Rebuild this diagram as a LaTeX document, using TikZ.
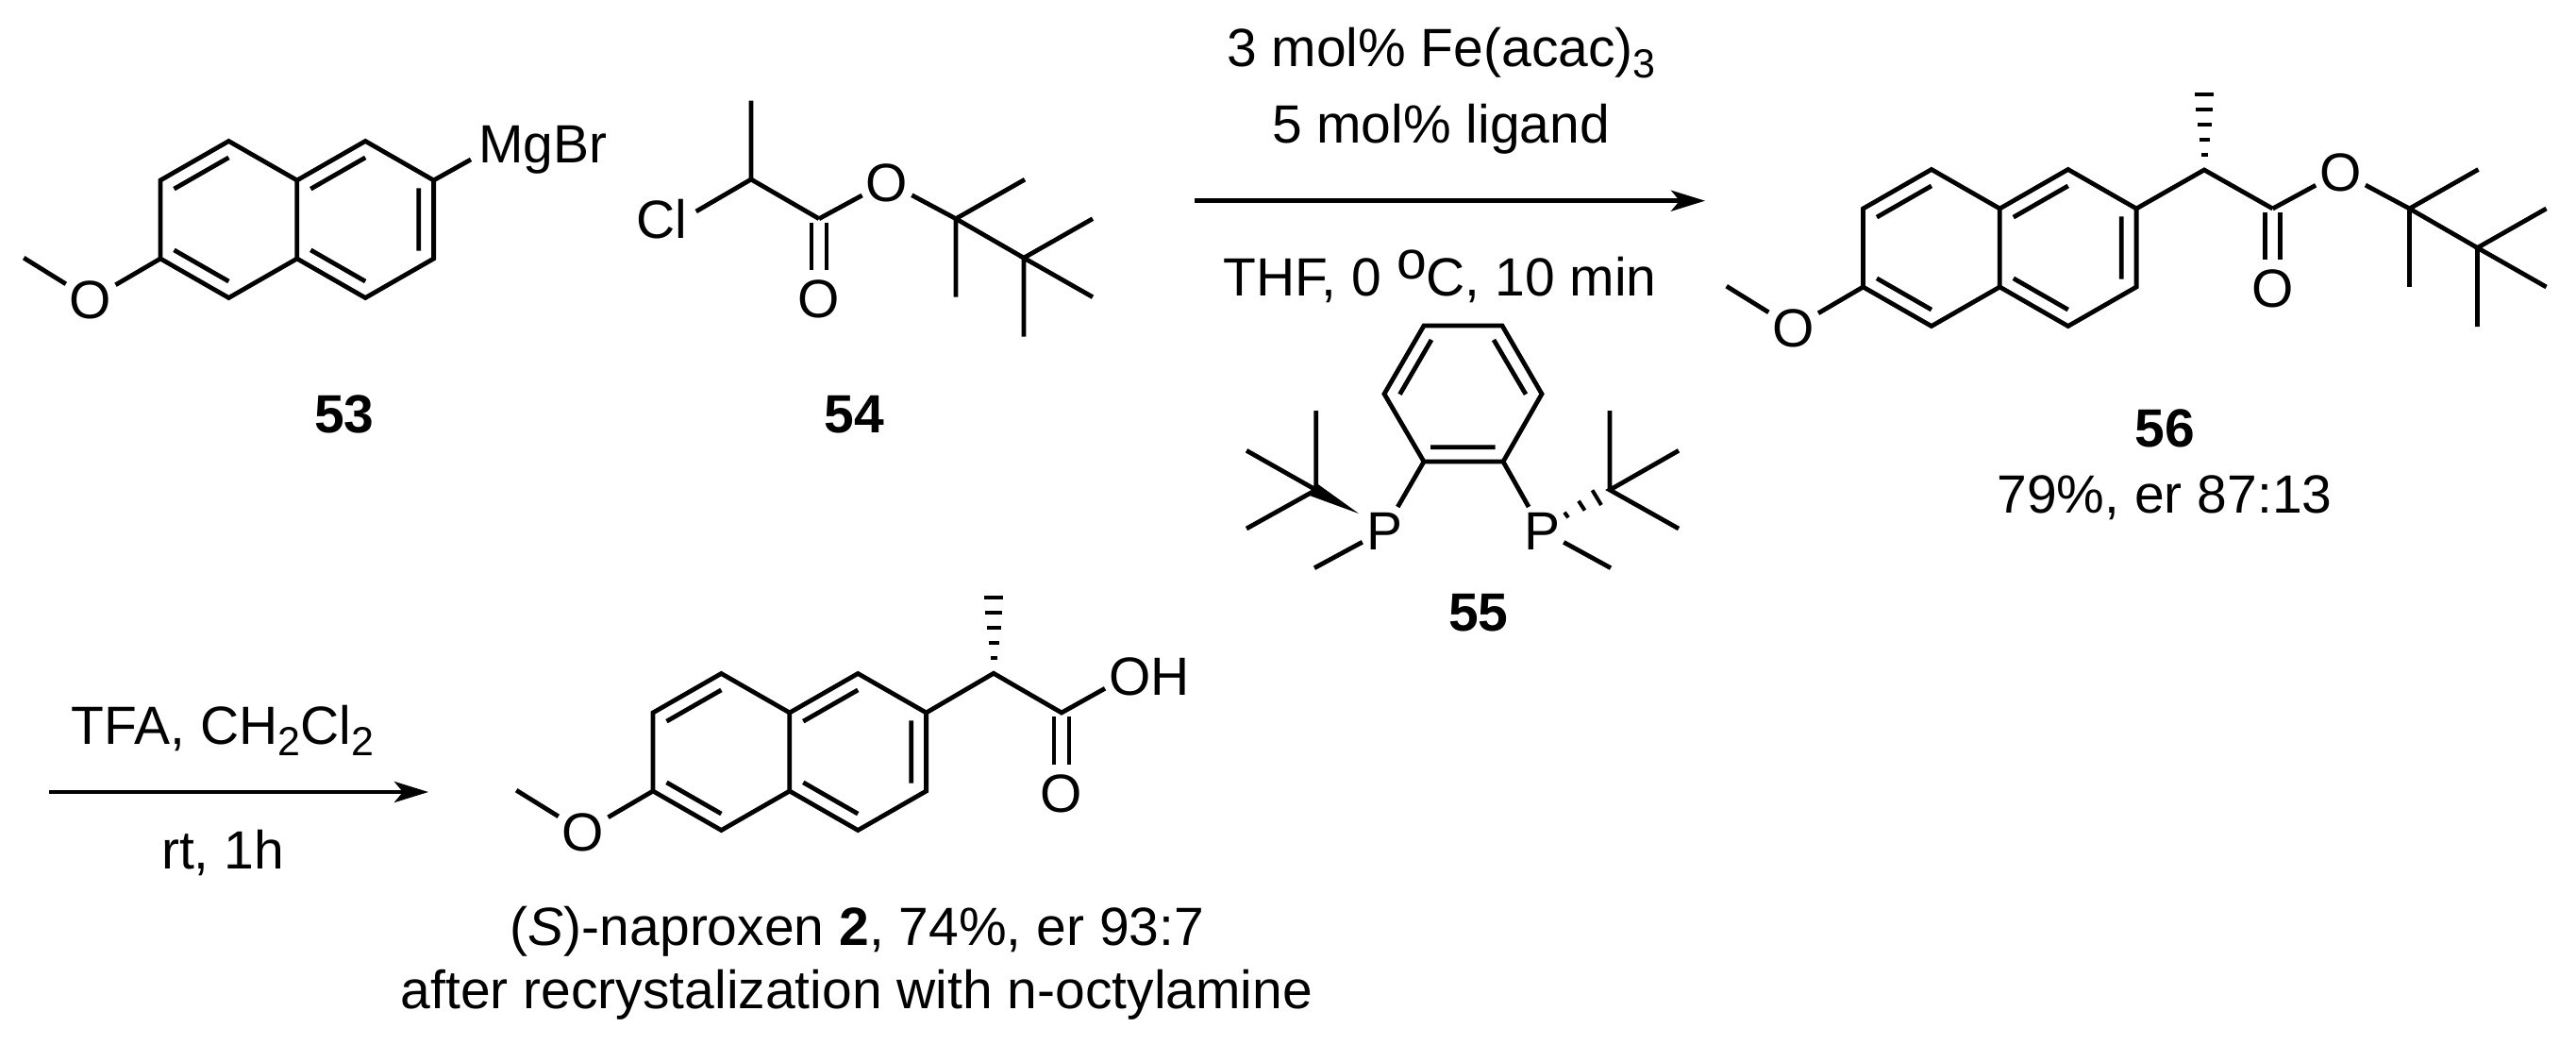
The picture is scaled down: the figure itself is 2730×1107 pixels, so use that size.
\documentclass[tikz,border=0pt]{standalone}
\usepackage{fontspec}
\setmainfont{Liberation Sans}
\usetikzlibrary{arrows.meta}

\newcommand{\chemfont}{\fontsize{57}{68}\selectfont}
\newcommand{\chemsub}[1]{\raisebox{-12pt}{\fontsize{43}{43}\selectfont #1}}

\tikzset{
	bond/.style={line width=4.8pt},
	dbond/.style={double, double distance=11.2pt, line width=4.8pt, shorten <=4pt, shorten >=5pt},
	hashbar/.style={line width=4pt},
	rxnarrow/.style={line width=4.6pt, -{Stealth[length=36pt, width=22pt, inset=9pt]}},
	atom/.style={inner sep=4pt, text height=41pt, text depth=0pt},
	lbl/.style={anchor=base, inner sep=0pt}
}

% naftaleno com metoxila, #1 posicao, #2 prefixo dos nomes
\newcommand{\naphthring}[2]{
	\begin{scope}[shift={#1}, x=72.4pt, y=-41.5pt]
		\draw[bond] (0,0) -- (1,-1) -- (2,0) -- (3,-1) -- (4,0) -- (4,2) -- (3,3) -- (2,2) -- (1,3) -- (0,2) -- cycle (2,0) -- (2,2);
		\draw[bond] (0.2,0.22) -- (1,-0.58) (2.2,0.22) -- (3,-0.58) (3.78,0.2) -- (3.78,1.8) (0.2,1.78) -- (1,2.58) (2.2,1.78) -- (3,2.58);
		\coordinate (#2c) at (0,2);
		\coordinate (#2m) at (-2,1.98);
		\coordinate (#2s) at (4,0);
		\node[atom] (#2o) at (-1.02,3.04) {O};
		\draw[bond] (#2c) -- (#2o) -- (#2m);
	\end{scope}
}

% ester terc-octila, #1 posicao do C=O, #2 prefixo dos nomes
\newcommand{\esterchain}[2]{
	\begin{scope}[shift={#1}]
		\coordinate (#2c) at (0,0);
		\node[atom] (#2e) at (72,-39) {O};
		\node[atom] (#2k) at (0,84) {O};
		\coordinate (#2qa) at (145,0);
		\coordinate (#2qb) at (217,41.5);
		\coordinate (#2ma) at (218,-41.5);
		\coordinate (#2mb) at (145,83);
		\coordinate (#2mc) at (290,0);
		\coordinate (#2md) at (290,83);
		\coordinate (#2me) at (217,125);
		\draw[dbond] (#2c) -- (#2k);
		\draw[bond] (#2c) -- (#2e) -- (#2qa) -- (#2qb);
		\draw[bond] (#2ma) -- (#2qa) -- (#2mb);
		\draw[bond] (#2mc) -- (#2qb) -- (#2md) (#2qb) -- (#2me);
	\end{scope}
}

% metila tracejada sobre o carbono #1
\newcommand{\hashedmethyl}[1]{
	\begin{scope}[shift={#1}]
		\foreach \dy/\dw in {-80/10.3, -64/9, -48/7.5, -32/5.5, -16/3.5}
			\draw[hashbar] (-\dw,\dy) -- (\dw,\dy);
	\end{scope}
}

\begin{document}
\begin{tikzpicture}[x=1pt, y=-1pt, font=\chemfont]
	\useasboundingbox (0,0) rectangle (2730,1107);

	%composto 53
	\naphthring{(170,191)}{nap53}
	\node[atom, anchor=west] (mgbr) at (503,152) {MgBr};
	\coordinate (mgbrb) at (499,169);
	\draw[bond] (nap53s) -- (mgbrb);
	\node[lbl] (lbl53) at (365,458) {\textbf{53}};

	%composto 54
	\esterchain{(868,231.7)}{est54}
	\coordinate (ch54) at (796,190);
	\coordinate (me54) at (796,106.7);
	\node[atom] (cl54) at (701,232.5) {Cl};
	\coordinate (cl54b) at (737.7,224);
	\draw[bond] (me54) -- (ch54) -- (est54c);
	\draw[bond] (ch54) -- (cl54b);
	\node[lbl] (lbl54) at (905,458) {\textbf{54}};

	%condicoes 1
	\node[lbl] (cond1) at (1527.5,70.7) {3 mol\% Fe(acac)\chemsub{3}};
	\node[lbl] (cond2) at (1527,151.7) {5 mol\% ligand};
	\coordinate (arr1a) at (1266,212.7);
	\coordinate (arr1b) at (1807,212.7);
	\draw[rxnarrow] (arr1a) -- (arr1b);
	\node[lbl] (cond3) at (1526,313.3) {THF, 0 \raisebox{18pt}{o}C, 10 min};

	%ligante 55
	\coordinate (ra) at (1509,345);
	\coordinate (rb) at (1592,345);
	\coordinate (rc) at (1634,417.3);
	\coordinate (rd) at (1593,489);
	\coordinate (re) at (1509,489);
	\coordinate (rf) at (1467,417.3);
	\draw[bond] (ra) -- (rb) -- (rc) -- (rd) -- (re) -- (rf) -- cycle;
	\draw[bond] (1517,360) -- (1483.5,417.7) (1583,360) -- (1617,417.7) (1516,473.7) -- (1584.5,473.7);
	\node[atom] (pa) at (1467,561.7) {P};
	\node[atom] (pb) at (1634,561.7) {P};
	\draw[bond] (re) -- (pa) (rd) -- (pb);

	\coordinate (qa) at (1394.7,519);
	\coordinate (qa1) at (1394.7,435);
	\coordinate (qa2) at (1321,477.3);
	\coordinate (qa3) at (1321,560);
	\coordinate (mpa) at (1393,601.7);
	\draw[bond] (qa1) -- (qa) (qa2) -- (qa) -- (qa3) (mpa) -- (pa);
	\fill (1395,511.7) -- (1388,525) -- (1440,544) -- cycle;

	\coordinate (qb) at (1706,519);
	\coordinate (qb1) at (1706,435);
	\coordinate (qb2) at (1779,477.3);
	\coordinate (qb3) at (1779,560);
	\coordinate (mpb) at (1707,601.7);
	\draw[bond] (qb1) -- (qb) (qb2) -- (qb) -- (qb3) (mpb) -- (pb);
	\draw[hashbar] (1687.5,519.3) -- (1697,535) (1673,530.7) -- (1679.5,540.7) (1658,542.7) -- (1662,548.3);
	\node[lbl] (lbl55) at (1566.7,668) {\textbf{55}};

	%composto 56
	\naphthring{(1974.5,221)}{nap56}
	\esterchain{(2408.5,221)}{est56}
	\coordinate (ch56) at (2336,180);
	\draw[bond] (nap56s) -- (ch56) -- (est56c);
	\hashedmethyl{(ch56)}
	\node[lbl] (lbl56) at (2294,473) {\textbf{56}};
	\node[lbl] (yield56) at (2294,543) {79\%, er 87:13};

	%condicoes 2
	\node[lbl] (cond4) at (236,788) {TFA, CH\chemsub{2}Cl\chemsub{2}};
	\coordinate (arr2a) at (52,839);
	\coordinate (arr2b) at (454,839);
	\draw[rxnarrow] (arr2a) -- (arr2b);
	\node[lbl] (cond5) at (236,920) {rt, 1h};

	%naproxeno
	\naphthring{(692,755)}{nap2}
	\coordinate (ch2) at (1053,713.3);
	\coordinate (acid2) at (1125,755);
	\node[atom] (oh2) at (1218,715.5) {OH};
	\coordinate (oh2b) at (1171,729.3);
	\node[atom] (ok2) at (1125,840) {O};
	\draw[dbond] (acid2) -- (ok2);
	\draw[bond] (nap2s) -- (ch2) -- (acid2) -- (oh2b);
	\hashedmethyl{(ch2)}
	\node[lbl] (name2) at (908.5,1001.7) {(\textit{S})-naproxen \textbf{2}, 74\%, er 93:7};
	\node[lbl] (note2) at (908,1068) {after recrystalization with n-octylamine};
\end{tikzpicture}
\end{document}
